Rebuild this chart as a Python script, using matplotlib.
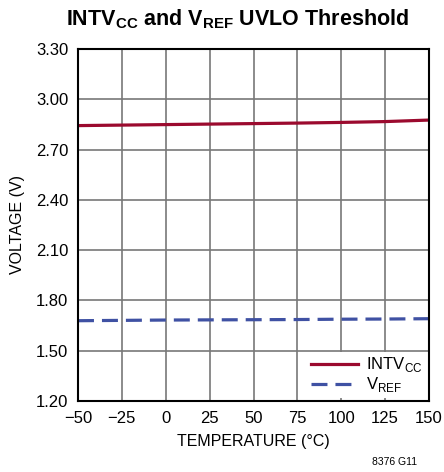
import matplotlib
matplotlib.use("Agg")
import matplotlib.pyplot as plt

plt.rcParams['font.family'] = ['Liberation Sans Narrow', 'Liberation Sans', 'DejaVu Sans']
plt.rcParams['mathtext.fontset'] = 'custom'
plt.rcParams['mathtext.rm'] = 'Liberation Sans'
plt.rcParams['mathtext.bf'] = 'Liberation Sans:bold'

temperature = [-50, -25, 0, 25, 50, 75, 100, 125, 150]
intvcc = [2.843, 2.846, 2.849, 2.852, 2.855, 2.858, 2.862, 2.867, 2.876]
vref = [1.679, 1.681, 1.683, 1.684, 1.685, 1.686, 1.688, 1.689, 1.691]

x_ticks = [-50, -25, 0, 25, 50, 75, 100, 125, 150]
y_ticks = [1.20, 1.50, 1.80, 2.10, 2.40, 2.70, 3.00, 3.30]

fig = plt.figure(figsize=(4.44, 4.72), dpi=100)
ax = fig.add_axes([78 / 444, 1 - 401 / 472, 351 / 444, 352 / 472])

ax.plot(temperature, intvcc, color='#9b0a2e', lw=2.3, label=r'INTV$_{\mathregular{CC}}$')
ax.plot(temperature, vref, color='#3f51a3', lw=2.3, ls=(0, (5, 2.5)), label=r'V$_{\mathregular{REF}}$')

ax.set_xlim(-50, 150)
ax.set_ylim(1.2, 3.3)
ax.set_xticks(x_ticks)
ax.set_xticklabels(['\u221250', '\u221225', '0', '25', '50', '75', '100', '125', '150'])
ax.set_yticks(y_ticks)
ax.set_yticklabels([f'{v:.2f}' for v in y_ticks])
ax.tick_params(length=0, labelsize=12, pad=7)
ax.grid(True, color='#787878', lw=1.2)
for s in ax.spines.values():
    s.set_linewidth(1.5)
    s.set_color('black')

ax.set_xlabel('TEMPERATURE (\u00b0C)', fontsize=11.5, labelpad=6)
ax.set_ylabel('VOLTAGE (V)', fontsize=11.5, labelpad=8)

leg = ax.legend(loc='lower right', fontsize=12, frameon=True, fancybox=False,
                handlelength=2.8, handletextpad=0.5, borderpad=0.2,
                borderaxespad=0.2, labelspacing=0.05)
leg.get_frame().set_edgecolor('none')
leg.get_frame().set_facecolor('white')
leg.get_frame().set_alpha(1)

fig.text(238 / 444, 1 - 19 / 472, r'INTV$_{\mathbf{CC}}$ and V$_{\mathbf{REF}}$ UVLO Threshold',
         ha='center', va='center', fontsize=15.5, fontweight='bold')
fig.text(395 / 444, 1 - 462 / 472, '8376 G11', ha='center', va='center', fontsize=7.5)

fig.savefig('out.png', dpi=100)
